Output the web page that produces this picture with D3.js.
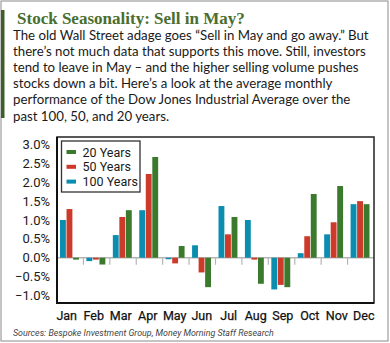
<!DOCTYPE html>
<html>
<head>
<meta charset="utf-8">
<script src="https://cdn.jsdelivr.net/npm/d3@7"></script>
<style>
  body { margin: 0; background: #fff; }
  svg { display: block; }
</style>
</head>
<body>
<div class="canvas"></div>
<script>
const months = ['Jan', 'Feb', 'Mar', 'Apr', 'May', 'Jun', 'Jul', 'Aug', 'Sep', 'Oct', 'Nov', 'Dec'];
const seriesNames = ['100 Years', '50 Years', '20 Years'];
const years100 = [1.00, -0.09, 0.60, 1.26, -0.04, 0.33, 1.37, 1.00, -0.84, 0.12, 0.62, 1.42];
const years50 = [1.29, -0.05, 1.08, 2.22, -0.15, -0.39, 0.62, -0.05, -0.72, 0.57, 0.94, 1.50];
const years20 = [-0.05, -0.18, 1.26, 2.67, 0.31, -0.78, 1.08, -0.69, -0.78, 1.69, 1.90, 1.42];
const yTicks = [-1.0, -0.5, 0.0, 0.5, 1.0, 1.5, 2.0, 2.5, 3.0];
const legendOrder = ['20 Years', '50 Years', '100 Years'];

const title = 'Stock Seasonality: Sell in May?';
const bodyLines = [
    'The old Wall Street adage goes \u201cSell in May and go away.\u201d But',
    'there\u2019s not much data that supports this move. Still, investors',
    'tend to leave in May \u2013 and the higher selling volume pushes',
    'stocks down a bit. Here\u2019s a look at the average monthly',
    'performance of the Dow Jones Industrial Average over the',
    'past 100, 50, and 20 years.'
];
const source = 'Sources: Bespoke Investment Group, Money Morning Staff Research';

const colors = { '100 Years': '#0b8db0', '50 Years': '#cc3a2a', '20 Years': '#3b7a2c' };
const values = { '100 Years': years100, '50 Years': years50, '20 Years': years20 };

const svgDims = { width: 390, height: 343 };
const plot = { left: 57, right: 374, top: 137, bottom: 303 };

const svg = d3.select('.canvas')
    .append('svg')
    .attr('width', svgDims.width)
    .attr('height', svgDims.height);

// scale a text's font size so its natural width matches the wanted width
const fitSize = (sel, width) => {
    const size = +sel.attr('font-size');
    const w = sel.node().getComputedTextLength();
    sel.attr('font-size', (size * width / w).toFixed(2));
};

// outer frame and green accent
svg.append('rect')
    .attr('x', 1).attr('y', 1)
    .attr('width', svgDims.width - 3).attr('height', svgDims.height - 3)
    .attr('fill', 'none')
    .attr('stroke', '#8a8a8a')
    .attr('stroke-width', 1);
svg.append('rect')
    .attr('x', 1).attr('y', 10)
    .attr('width', 3.5).attr('height', 108)
    .attr('fill', '#3e5f2a');

// header text
const titleText = svg.append('text')
    .attr('x', 17).attr('y', 24)
    .attr('font-family', '"Liberation Serif", serif')
    .attr('font-weight', 'bold')
    .attr('font-size', 19)
    .attr('fill', '#4a6e2e')
    .text(title);
fitSize(titleText, 228);

const body = svg.append('g')
    .attr('font-family', 'Lato, sans-serif')
    .attr('font-size', 15)
    .attr('fill', '#1a1a1a');
const bodyTexts = body.selectAll('text')
    .data(bodyLines)
    .enter()
    .append('text')
        .attr('x', 13)
        .attr('y', (d, i) => 40 + i * 16.1)
        .text(d => d);
// fit on the widest line (line 2 ends near x = 366)
const widest = bodyTexts.nodes()[1].getComputedTextLength();
body.attr('font-size', (15 * 353 / widest).toFixed(2));

// scales
const x = d3.scaleBand()
    .domain(months)
    .range([plot.left, plot.right]);
const xInner = d3.scaleBand()
    .domain(seriesNames)
    .range([3, x.bandwidth() - 4.5])
    .paddingInner(0.1);
// month labels sit on a slightly wider spacing than the bar groups
const xLabel = d3.scalePoint()
    .domain(months)
    .range([66.7, 363.8]);
const y = d3.scaleLinear()
    .domain([-1.2, 3.2])
    .range([plot.bottom, plot.top]);

// zero line and group separators
svg.append('line')
    .attr('x1', plot.left).attr('x2', plot.right)
    .attr('y1', y(0)).attr('y2', y(0))
    .attr('stroke', '#b5b5b5')
    .attr('stroke-width', 1.5);
svg.append('g')
    .selectAll('line')
    .data(months.slice(1))
    .enter()
    .append('line')
        .attr('x1', d => x(d)).attr('x2', d => x(d))
        .attr('y1', y(0)).attr('y2', y(0) + 7)
        .attr('stroke', '#b5b5b5')
        .attr('stroke-width', 1.2);

// bars
const groups = svg.append('g')
    .selectAll('g')
    .data(months)
    .enter()
    .append('g')
        .attr('transform', d => `translate(${x(d)}, 0)`);
groups.selectAll('rect')
    .data((m, i) => seriesNames.map(s => ({ s, v: values[s][i] })))
    .enter()
    .append('rect')
        .attr('x', d => xInner(d.s))
        .attr('width', xInner.bandwidth())
        .attr('y', d => y(Math.max(0, d.v)))
        .attr('height', d => Math.abs(y(d.v) - y(0)))
        .attr('fill', d => colors[d.s]);

// y axis labels
svg.append('g')
    .selectAll('text')
    .data(yTicks)
    .enter()
    .append('text')
        .attr('x', 50)
        .attr('y', d => y(d) + 4.5)
        .attr('text-anchor', 'end')
        .attr('font-family', 'Roboto, sans-serif')
        .attr('font-size', 13)
        .attr('fill', '#1a1a1a')
        .text(d => d3.format('.1f')(d) + '%');

// month labels
svg.append('g')
    .selectAll('text')
    .data(months)
    .enter()
    .append('text')
        .attr('x', d => xLabel(d))
        .attr('y', 320)
        .attr('text-anchor', 'middle')
        .attr('font-family', 'Roboto, sans-serif')
        .attr('font-size', 12.5)
        .attr('fill', '#111')
        .attr('stroke', '#111')
        .attr('stroke-width', 0.25)
        .text(d => d);

// plot frame
svg.append('rect')
    .attr('x', plot.left).attr('y', plot.top)
    .attr('width', plot.right - plot.left).attr('height', plot.bottom - plot.top)
    .attr('fill', 'none')
    .attr('stroke', '#222')
    .attr('stroke-width', 1.5);
svg.append('path')
    .attr('d', `M${plot.left},${plot.top}V${plot.bottom}H${plot.right}`)
    .attr('fill', 'none')
    .attr('stroke', '#111')
    .attr('stroke-width', 2);

// legend
const legend = svg.append('g')
    .attr('transform', 'translate(61.5, 141)');
legend.append('rect')
    .attr('width', 78.5).attr('height', 51)
    .attr('fill', '#fff')
    .attr('stroke', '#333')
    .attr('stroke-width', 1.3);
const items = legend.selectAll('g')
    .data(legendOrder)
    .enter()
    .append('g')
        .attr('transform', (d, i) => `translate(0, ${11 + i * 14.8})`);
items.append('rect')
    .attr('x', 5).attr('y', -2)
    .attr('width', 9.5).attr('height', 4)
    .attr('fill', d => colors[d]);
items.append('text')
    .attr('x', 21).attr('y', 4.5)
    .attr('font-family', 'Roboto, sans-serif')
    .attr('font-size', 12.5)
    .attr('fill', '#1a1a1a')
    .text(d => d);

// source
const sourceText = svg.append('text')
    .attr('x', 13).attr('y', 336)
    .attr('font-family', 'Roboto, sans-serif')
    .attr('font-style', 'italic')
    .attr('font-size', 10)
    .attr('fill', '#444')
    .text(source);
fitSize(sourceText, 261);
</script>
</body>
</html>
